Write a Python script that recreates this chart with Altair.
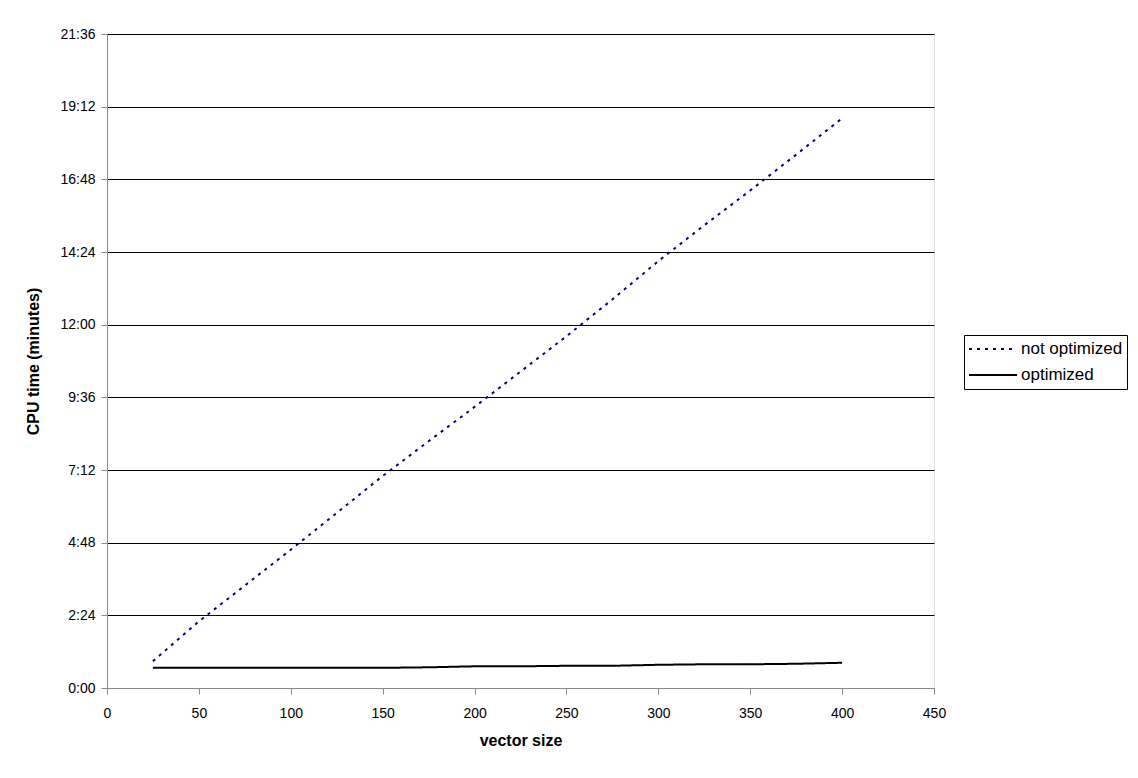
import altair as alt
import pandas as pd

vector_size = [25, 50, 75, 100, 125, 150, 175, 200, 225, 250, 275, 300, 325, 350, 375, 400]
# CPU time in seconds
not_optimized = [53, 132, 203, 274, 347, 420, 489, 557, 627, 697, 770, 846, 917, 986, 1057, 1129]
optimized = [40, 40, 40, 40, 40, 40, 41, 43, 43, 44, 44, 46, 47, 47, 48, 50]
series_names = ["not optimized", "optimized"]
y_ticks = [0, 144, 288, 432, 576, 720, 864, 1008, 1152, 1296]
x_ticks = [0, 50, 100, 150, 200, 250, 300, 350, 400, 450]

rows = []
for i, x in enumerate(vector_size):
    rows.append({"vector size": x, "cpu": not_optimized[i], "series": series_names[0]})
    rows.append({"vector size": x, "cpu": optimized[i], "series": series_names[1]})
df = pd.DataFrame(rows)

FONT = "Liberation Sans"

label_expr = "floor(datum.value/60) + ':' + (datum.value % 60 < 10 ? '0' : '') + (datum.value % 60)"

legend_kw = dict(title=None, orient="none", legendX=857, legendY=301,
                 symbolType="stroke", symbolSize=2304, clipHeight=20,
                 labelFontSize=17, labelFont=FONT, labelColor="black",
                 strokeColor="black", padding=4, rowPadding=6,
                 symbolStrokeWidth=2, fillColor="white", labelOffset=3)

chart = alt.Chart(df).mark_line().encode(
    x=alt.X("vector size:Q",
            scale=alt.Scale(domain=[0, 450], nice=False, zero=False),
            axis=alt.Axis(values=x_ticks, title="vector size", grid=False,
                          tickSize=6, labelPadding=12, titlePadding=12,
                          labelFlush=False, labelFontSize=14, titleFontSize=16)),
    y=alt.Y("cpu:Q",
            scale=alt.Scale(domain=[0, 1296], nice=False),
            axis=alt.Axis(values=y_ticks, title="CPU time (minutes)", grid=True,
                          gridColor="#000000", gridOpacity=1, gridWidth=1,
                          labelExpr=label_expr, tickSize=6, labelPadding=6,
                          labelFlush=False, titlePadding=18,
                          labelFontSize=14, titleFontSize=16)),
    color=alt.Color("series:N",
                    scale=alt.Scale(domain=series_names, range=["#000080", "#000000"]),
                    legend=alt.Legend(**legend_kw)),
    strokeDash=alt.StrokeDash("series:N",
                              scale=alt.Scale(domain=series_names, range=[[3, 5], [1, 0]]),
                              legend=alt.Legend(**legend_kw)),
).properties(
    width=827, height=654,
    autosize=alt.AutoSizeParams(type="none"),
    padding={"left": 99, "top": 26, "right": 196, "bottom": 80},
).configure_mark(strokeWidth=2).configure_axis(
    domainColor="black", tickColor="black",
    labelFont=FONT, titleFont=FONT, labelColor="black", titleColor="black",
    titleFontWeight="bold", labelFontWeight="normal",
).configure_view(
    stroke="#808080", strokeWidth=1
).configure(background="white")

chart.save("out.html", embed_options={"renderer": "svg", "actions": False})
